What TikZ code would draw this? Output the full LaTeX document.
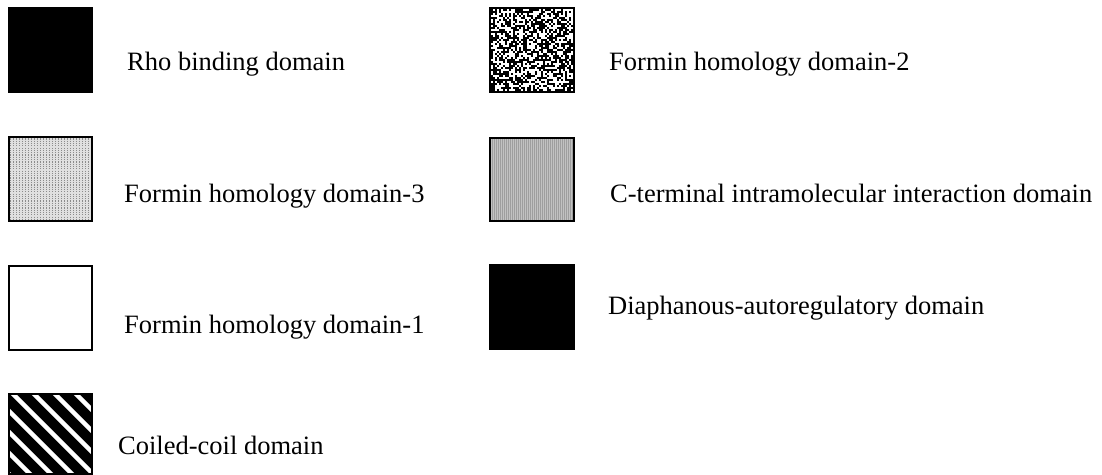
\documentclass[tikz,border=0pt]{standalone}
\usepackage{fontspec}
\setmainfont{Liberation Serif}
\begin{document}
\begin{tikzpicture}[x=1pt,y=-1pt,
  swatch/.style={draw=black, line width=2.2pt, minimum width=83pt, minimum height=84pt, inner sep=0pt, anchor=north west},
  lbl/.style={anchor=base west, inner sep=0pt, font=\fontsize{26.5}{30}\selectfont}]
\useasboundingbox (0,0) rectangle (1102,474);
\pgfmathsetseed{4242}
% ---------- patterns (drawn first, clipped to the swatch areas)
% FH3: light grey with dotted vertical lines
\begin{scope}
  \clip (8,136) rectangle (91,220);
  \fill[black!12] (8,136) rectangle (91,220);
  \foreach \i in {10,13,...,90} {
    \draw[black!45, line width=0.7pt, dash pattern=on 1.2pt off 1.1pt] (\i,136) -- (\i,220);
  }
\end{scope}
% Coiled-coil: black with white diagonal stripes
\begin{scope}
  \clip (8,393) rectangle (91,473);
  \fill[black] (8,393) rectangle (91,473);
  \foreach \k in {-80,-59,-38,-17,4,25,46,67} {
    \draw[white, line width=4.5pt] (8+\k,393) -- (98+\k,483);
  }
\end{scope}
% FH2: random speckle
\begin{scope}
  \clip (489,7) rectangle (573,91);
  \fill[white] (489,7) rectangle (573,91);
  \foreach \i in {0,2,...,82} {
    \foreach \j in {0,2,...,82} {
      \pgfmathrandominteger{\r}{0}{99}
      \ifnum\r<50 \fill[black] (489+\i,7+\j) rectangle ++(2,2);\fi
    }
  }
\end{scope}
% CTIID: mid-light grey with fine vertical lines
\begin{scope}
  \clip (489,137) rectangle (573,220);
  \fill[black!24] (489,137) rectangle (573,220);
  \foreach \i in {490,492,...,572} {
    \draw[black!38, line width=0.6pt] (\i,137) -- (\i,220);
  }
\end{scope}
% ---------- left column
\node[swatch, fill=black] (rho) at (8,7) {};
\node[lbl] (rhoL) at (127,70) {Rho binding domain};
\node[swatch] (fh3) at (8,136) {};
\node[lbl] (fh3L) at (124,202) {Formin homology domain-3};
\node[swatch, fill=white] (fh1) at (8,265) {};
\node[lbl] (fh1L) at (124,333) {Formin homology domain-1};
\node[swatch, minimum height=80pt] (cc) at (8,393) {};
\node[lbl] (ccL) at (118,454) {Coiled-coil domain};
% ---------- right column
\node[swatch, minimum width=84pt] (fh2) at (489,7) {};
\node[lbl] (fh2L) at (609,70) {Formin homology domain-2};
\node[swatch, minimum width=84pt, minimum height=83pt] (ct) at (489,137) {};
\node[lbl] (ctL) at (610,202) {C-terminal intramolecular interaction domain};
\node[swatch, fill=black, minimum width=84pt] (dad) at (489,264) {};
\node[lbl] (dadL) at (608,314) {Diaphanous-autoregulatory domain};
\end{tikzpicture}
\end{document}
